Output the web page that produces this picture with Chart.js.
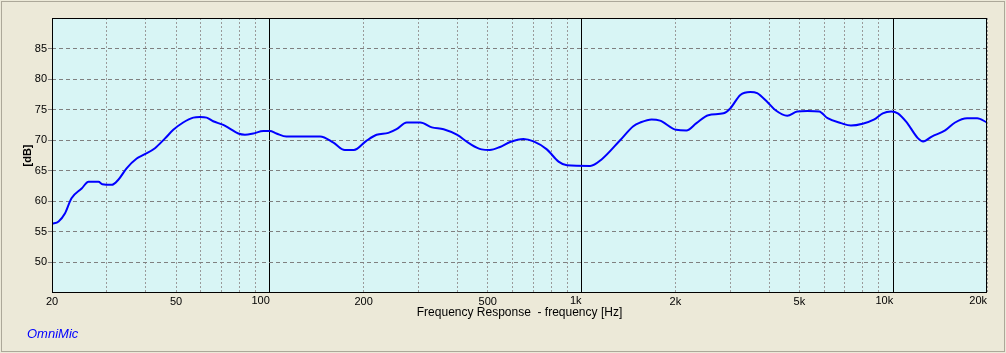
<!DOCTYPE html>
<html>
<head>
<meta charset="utf-8">
<script src="https://cdn.jsdelivr.net/npm/chart.js@4.4.1/dist/chart.umd.min.js"></script>
<style>
  html, body { margin: 0; padding: 0; background: #ece9d8; }
  #wrap { position: relative; width: 1006px; height: 353px; }
  #frame {
    position: absolute; left: 1px; top: 1px; width: 1004px; height: 351px;
    box-sizing: border-box; border: 1px solid #aca899; pointer-events: none;
  }
  canvas { position: absolute; left: 0; top: 0; }
</style>
</head>
<body>
<div id="wrap">
  <canvas id="fr" width="1006" height="353"></canvas>
  <div id="frame"></div>
</div>
<script>
// -- Data ------------------------------------------------------------------

const freqHz = [
  20, 21, 22, 23.1, 24.9, 26.2, 28.2, 29, 31.1, 32.6, 34.7, 37.4, 39.3, 42.8,
  46.1, 49, 52.7, 56.8, 59.7, 62.7, 65.8, 70.9, 74.4, 79.2, 83.2, 88.5, 95.3,
  100, 105, 113, 125, 145, 160, 174, 186, 204, 220, 240, 255, 275, 304, 331,
  361, 398, 439, 478, 508, 548, 590, 651, 702, 774, 844, 898, 1066, 1162,
  1330, 1466, 1544, 1678, 1786, 2012, 2170, 2338, 2552, 2856, 3000, 3232,
  3480, 3660, 3940, 4194, 4572, 4920, 5310, 5792, 6160, 6800, 7320, 7980,
  8700, 9260, 9852, 10350, 11020, 12020, 12480, 13300, 14680, 15800, 17260,
  18600, 20000,
];

const levelDb = [
  56.3, 56.7, 58.0, 60.5, 62.1, 63.2, 63.2, 62.8, 62.7, 63.5, 65.4, 67.0, 67.6, 68.7,
  70.3, 71.7, 72.9, 73.7, 73.8, 73.7, 73.1, 72.5, 71.9, 71.1, 70.9, 71.1, 71.5,
  71.5, 71.1, 70.6, 70.6, 70.6, 69.6, 68.4, 68.4, 69.9, 70.9, 71.2, 71.8, 72.9, 72.9, 72.1,
  71.8, 70.9, 69.4, 68.5, 68.4, 68.9, 69.7, 70.2, 69.8, 68.5, 66.5, 65.9, 65.8, 66.9,
  70.0, 72.3, 72.9, 73.4, 73.2, 71.7, 71.6, 72.8, 74.1, 74.4, 75.2, 77.4,
  77.9, 77.7, 76.3, 74.9, 74.0, 74.7, 74.8, 74.7, 73.6, 72.8, 72.4, 72.7,
  73.4, 74.4, 74.7, 74.4, 73.0, 70.3, 69.8, 70.6, 71.6, 72.9, 73.6,
  73.6, 72.9,
];

// grid positions (1-2-..-9 per decade) and the labelled ones
const minorTicks = [
  20, 30, 40, 50, 60, 70, 80, 90,
  200, 300, 400, 500, 600, 700, 800, 900,
  2000, 3000, 4000, 5000, 6000, 7000, 8000, 9000,
  20000,
];
const decadeTicks = [100, 1000, 10000, 20000];
const minorLabels = { 20: '20', 50: '50', 200: '200', 500: '500', 2000: '2k', 5000: '5k' };
const decadeLabels = { 100: '100', 1000: '1k', 10000: '10k', 20000: '20k' };

const yMin = 45;
const yMax = 90;
const yStep = 5;

// -- Look ------------------------------------------------------------------

const PLOT_BG = '#d8f5f5';
const GRID_H = '#808080';
const GRID_V = '#9a9a9a';
const TICK_FONT = { family: 'Liberation Sans', size: 11 };

const plotBackground = {
  id: 'plotBackground',
  beforeDraw(chart) {
    const { ctx, chartArea: a } = chart;
    ctx.save();
    ctx.fillStyle = PLOT_BG;
    ctx.fillRect(a.left, a.top, a.right - a.left, a.bottom - a.top);
    ctx.restore();
  },
};

const plotFrame = {
  id: 'plotFrame',
  afterDraw(chart) {
    const { ctx, chartArea: a } = chart;
    ctx.save();
    ctx.strokeStyle = '#000';
    ctx.lineWidth = 1;
    ctx.strokeRect(Math.round(a.left) + 0.5, Math.round(a.top) + 0.5,
      Math.round(a.right - a.left) - 1, Math.round(a.bottom - a.top) - 1);
    ctx.fillStyle = '#0000ff';
    ctx.font = 'italic 13px "Liberation Sans"';
    ctx.textBaseline = 'middle';
    ctx.fillText('OmniMic', 27, 334);
    ctx.restore();
  },
};

new Chart(document.getElementById('fr'), {
  type: 'line',
  data: {
    datasets: [{
      data: freqHz.map((f, i) => ({ x: f, y: levelDb[i] })),
      borderColor: '#0000ff',
      borderWidth: 2,
      pointRadius: 0,
      cubicInterpolationMode: 'monotone',
      fill: false,
    }],
  },
  options: {
    responsive: false,
    animation: false,
    layout: { padding: { left: 0, top: 18, right: 19, bottom: 30 } },
    plugins: { legend: { display: false }, tooltip: { enabled: false } },
    scales: {
      // decade axis: solid black lines, labels right-aligned on the line.
      // mirror keeps the labels from being clipped to the zero-height box.
      xd: {
        type: 'logarithmic',
        position: 'bottom',
        weight: -1,
        min: 20,
        max: 20000,
        afterBuildTicks: (s) => { s.ticks = decadeTicks.map((v) => ({ value: v })); },
        afterFit: (s) => { s.height = 0; },
        border: { display: false },
        grid: {
          drawTicks: false,
          color: (c) => (c.tick && c.tick.value === 20000 ? 'transparent' : '#000'),
        },
        ticks: {
          autoSkip: false,
          maxRotation: 0,
          mirror: true,
          align: 'end',
          padding: -15,
          color: '#000',
          font: TICK_FONT,
          callback: (v) => decadeLabels[v] || '',
        },
      },
      x: {
        type: 'logarithmic',
        position: 'bottom',
        min: 20,
        max: 20000,
        afterBuildTicks: (s) => { s.ticks = minorTicks.map((v) => ({ value: v })); },
        afterFit: (s) => { s.height = 30; },
        border: { display: false, dash: [2, 2] },
        grid: { drawTicks: false, color: GRID_V },
        ticks: {
          autoSkip: false,
          maxRotation: 0,
          padding: 2,
          color: '#000',
          font: TICK_FONT,
          callback: (v) => minorLabels[v] || '',
        },
        title: {
          display: true,
          text: 'Frequency Response  - frequency [Hz]',
          color: '#000',
          font: { family: 'Liberation Sans', size: 12 },
          padding: { top: 0, bottom: 3 },
        },
      },
      y: {
        min: yMin,
        max: yMax,
        afterFit: (s) => { s.width = 52; },
        border: { display: false, dash: [4, 3] },
        grid: {
          tickLength: 4,
          color: (c) => (c.tick && (c.tick.value === yMin || c.tick.value === yMax) ? 'transparent' : GRID_H),
        },
        ticks: {
          stepSize: yStep,
          padding: 1,
          color: '#000',
          font: TICK_FONT,
          callback: (v) => (v === yMin || v === yMax ? '' : String(v)),
        },
        title: {
          display: true,
          text: '[dB]',
          color: '#000',
          font: { family: 'Liberation Sans', size: 11, weight: 'bold' },
          padding: { top: 21, bottom: 0 },
        },
      },
    },
  },
  plugins: [plotBackground, plotFrame],
});
</script>
</body>
</html>
